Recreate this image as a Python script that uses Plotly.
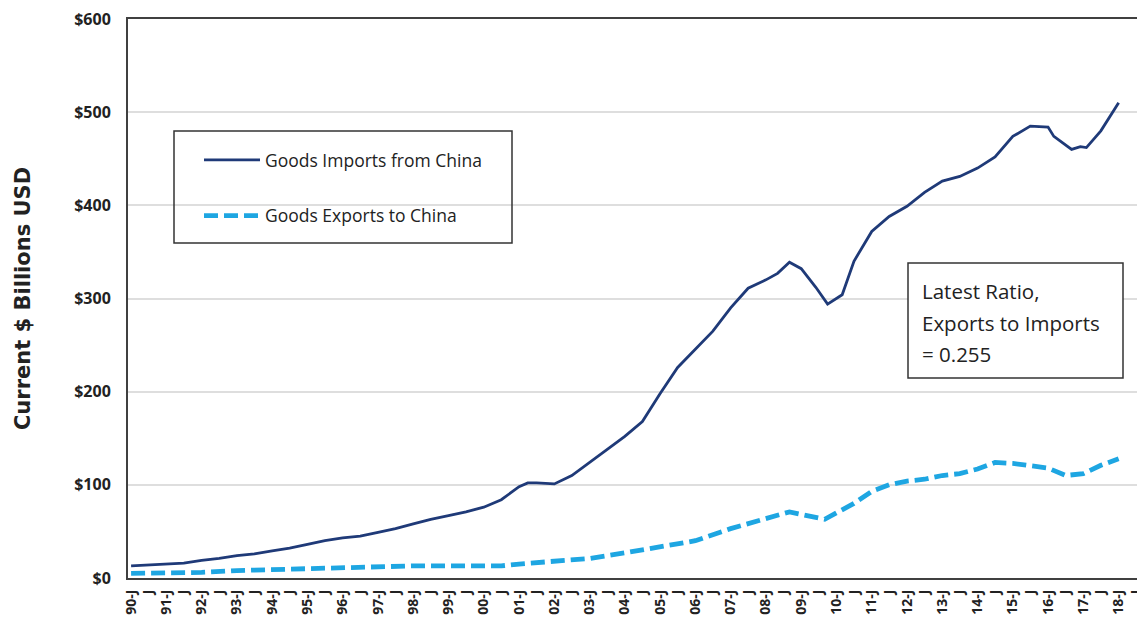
import plotly.graph_objects as go

# ---- data ----
imp_dates = ["1990-01-01","1990-07-01","1991-01-01","1991-07-01","1992-01-01","1992-07-01",
             "1993-01-01","1993-07-01","1994-01-01","1994-07-01","1995-01-01","1995-07-01",
             "1996-01-01","1996-07-01","1997-01-01","1997-07-01","1998-01-01","1998-07-01",
             "1999-01-01","1999-07-01","2000-01-01","2000-07-01","2001-01-01","2001-04-01",
             "2001-07-01","2002-01-01","2002-07-01","2003-01-01","2003-07-01","2004-01-01",
             "2004-07-01","2005-01-01","2005-07-01","2006-01-01","2006-07-01","2007-01-01",
             "2007-07-01","2008-01-01","2008-05-01","2008-09-01","2009-01-01","2009-06-01",
             "2009-10-01","2010-03-01","2010-07-01","2011-01-01","2011-07-01","2012-01-01",
             "2012-07-01","2013-01-01","2013-07-01","2014-01-01","2014-07-01","2015-01-01",
             "2015-07-01","2016-01-01","2016-03-01","2016-09-01","2016-12-01","2017-02-01",
             "2017-07-01","2018-01-01"]
imports = [13,14,15,16,19,21,24,26,29,32,36,40,43,45,49,53,58,63,67,71,76,84,98,102,
           102,101,110,124,138,152,168,198,226,246,265,290,311,320,327,339,332,312,
           294,304,340,372,388,399,414,426,431,440,452,474,485,484,474,460,463,462,
           480,510]

exp_dates = ["1990-01-01","1991-01-01","1992-01-01","1993-01-01","1994-01-01","1995-01-01",
             "1996-01-01","1997-01-01","1998-01-01","1999-01-01","2000-01-01","2000-07-01",
             "2001-01-01","2002-01-01","2003-01-01","2004-01-01","2005-01-01","2006-01-01",
             "2007-01-01","2008-01-01","2008-09-01","2009-03-01","2009-09-01","2010-01-01",
             "2010-07-01","2011-01-01","2011-07-01","2012-01-01","2012-07-01","2013-01-01",
             "2013-07-01","2014-01-01","2014-07-01","2015-01-01","2015-07-01","2016-01-01",
             "2016-07-01","2017-01-01","2017-07-01","2018-01-01"]
exports = [5,5,6,8,9,10,12,12,13,13,13,13,15,18,21,27,34,40,53,63,71,67,63,70,80,93,
           100,104,106,110,112,117,124,123,120,118,110,112,121,128]

years = list(range(1990, 2019))
tick_vals = []
tick_text = []
for y in years:
    tick_vals.append(f"{y}-01-01")
    tick_text.append(f"{y % 100:02d}-J")
    tick_vals.append(f"{y}-07-01")
    tick_text.append("J")

y_ticks = [0, 100, 200, 300, 400, 500, 600]
y_tick_text = ["$0", "$100", "$200", "$300", "$400", "$500", "$600"]

ratio_lines = ["Latest Ratio,", "Exports to Imports", "= 0.255"]

FONT = "Open Sans"
TXT = "#222222"

# page has an 8px body margin; plot area wanted at x 128..1145, y ~18..578
W, H = 1137, 632
ML, MR, MT, MB = 120, 0, 11, 62
PW = W - ML - MR
PH = H - MT - MB
TOP = 8 + MT
BOT = 8 + H - MB


def px(x):
    return (x - 128) / PW


def py(y):
    return (BOT - y) / PH


fig = go.Figure()
fig.add_trace(go.Scatter(x=imp_dates, y=imports, mode="lines",
                         name="Goods Imports from China", legendgroup="a",
                         line=dict(color="#1F3A78", width=2.8)))
fig.add_trace(go.Scatter(x=exp_dates, y=exports, mode="lines",
                         name="Goods Exports to China", legendgroup="b",
                         line=dict(color="#1EA6E2", width=4.8, dash="14px,6px")))

fig.update_layout(
    width=W, height=H,
    margin=dict(l=ML, r=MR, t=MT, b=MB),
    paper_bgcolor="white", plot_bgcolor="white",
    font=dict(family=FONT, color=TXT),
    showlegend=True,
    legend=dict(x=px(199), y=py(142), xanchor="left", yanchor="top",
                bgcolor="rgba(0,0,0,0)", borderwidth=0,
                font=dict(size=17.5, family=FONT, color=TXT),
                tracegroupgap=30, itemwidth=56),
    xaxis=dict(type="date", range=["1989-11-30", "2018-10-01"],
               tickmode="array", tickvals=tick_vals, ticktext=tick_text,
               tickangle=-90, ticklabelstandoff=4, ticklabeloverflow="allow",
               tickfont=dict(size=14, color=TXT, family=FONT, weight="bold"),
               showgrid=False, zeroline=False,
               showline=True, linecolor="#404040", linewidth=2, mirror=True,
               ticks="", automargin=False),
    yaxis=dict(range=[0, 600], tickmode="array", tickvals=y_ticks, ticktext=y_tick_text,
               tickfont=dict(size=16, color=TXT, family=FONT, weight="bold"),
               ticklabelstandoff=12, ticklabeloverflow="allow",
               showgrid=True, gridcolor="#DEDEDE", gridwidth=1.5,
               zeroline=False, showline=True, linecolor="#404040", linewidth=2,
               ticks="", automargin=False,
               title=dict(text="Current $ Billions USD",
                          font=dict(size=21, color=TXT, family="DejaVu Sans", weight="bold"),
                          standoff=38)),
)

# legend frame
fig.add_shape(type="rect", xref="paper", yref="paper",
              x0=px(174), x1=px(512), y0=py(243), y1=py(131),
              line=dict(color="#333333", width=1.5), fillcolor="rgba(0,0,0,0)", layer="above")

# ratio box
fig.add_shape(type="rect", xref="paper", yref="paper",
              x0=px(908), x1=px(1123), y0=py(378), y1=py(263),
              line=dict(color="#333333", width=1.5), fillcolor="white", layer="above")
for i, line in enumerate(ratio_lines):
    fig.add_annotation(xref="paper", yref="paper", x=px(920), y=py(291 + 31.5 * i),
                       xanchor="left", yanchor="middle", text=line, showarrow=False,
                       font=dict(size=20.5, family=FONT, color=TXT))

fig.write_html("out.html")
